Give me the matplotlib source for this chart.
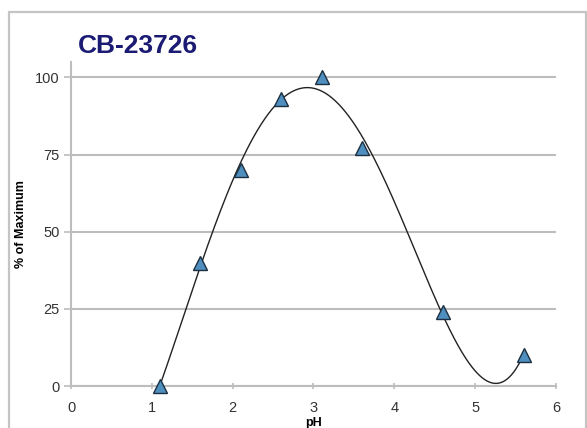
import numpy as np
import matplotlib
matplotlib.use("Agg")
import matplotlib.pyplot as plt
from matplotlib.patches import Rectangle

plt.rcParams["font.family"] = ["Liberation Sans", "DejaVu Sans"]

# measured data
ph = [1.1, 1.6, 2.1, 2.6, 3.1, 3.6, 4.6, 5.6]
pct_max = [0, 40, 70, 93, 100, 77, 24, 10]
x_ticks = [0, 1, 2, 3, 4, 5, 6]
y_ticks = [0, 25, 50, 75, 100]

fig = plt.figure(figsize=(5.87, 4.28), dpi=100)
ax = fig.add_axes([0.121, 0.098, 0.826, 0.757])

# outer chart frame
fig.patches.append(Rectangle((9 / 587, -0.2), 577 / 587, 1.2 - 12 / 428,
                             transform=fig.transFigure, fill=False,
                             edgecolor="#c4c4c4", linewidth=1.6))

# polynomial trendline through the points
coef = np.polyfit(ph, pct_max, 4)
xs = np.linspace(min(ph), max(ph), 300)
ax.plot(xs, np.polyval(coef, xs), color="#222222", linewidth=1.0, zorder=3)

ax.plot(ph, pct_max, linestyle="none", marker="^", markersize=10,
        markerfacecolor="#4f8fbf", markeredgecolor="#1c2f40",
        markeredgewidth=1.0, zorder=4, clip_on=False)

ax.set_xlim(0, 6)
ax.set_ylim(0, 105)
ax.set_xticks(x_ticks)
ax.set_yticks(y_ticks)
ax.yaxis.grid(True, color="#bdbdbd", linewidth=1.5)
ax.set_axisbelow(True)
for s in ["top", "right"]:
    ax.spines[s].set_visible(False)
for s in ["left", "bottom"]:
    ax.spines[s].set_color("#bdbdbd")
    ax.spines[s].set_linewidth(1.5)
ax.tick_params(axis="y", length=5, width=1.2, color="#bdbdbd",
               labelsize=10.5, labelcolor="#333333", pad=3)
ax.tick_params(axis="x", direction="inout", length=4, width=1.2,
               color="#bdbdbd", labelsize=10.5, labelcolor="#333333", pad=9)

ax.set_xlabel("pH", fontsize=9, fontweight="bold", labelpad=1)
ax.set_ylabel("% of Maximum", fontsize=9, fontweight="bold", labelpad=6)

fig.text(78 / 587, 1 - 53 / 428, "CB-23726", fontsize=19, fontweight="bold",
         color="#1b1b73", ha="left", va="baseline")

fig.savefig("out.png", dpi=100)
